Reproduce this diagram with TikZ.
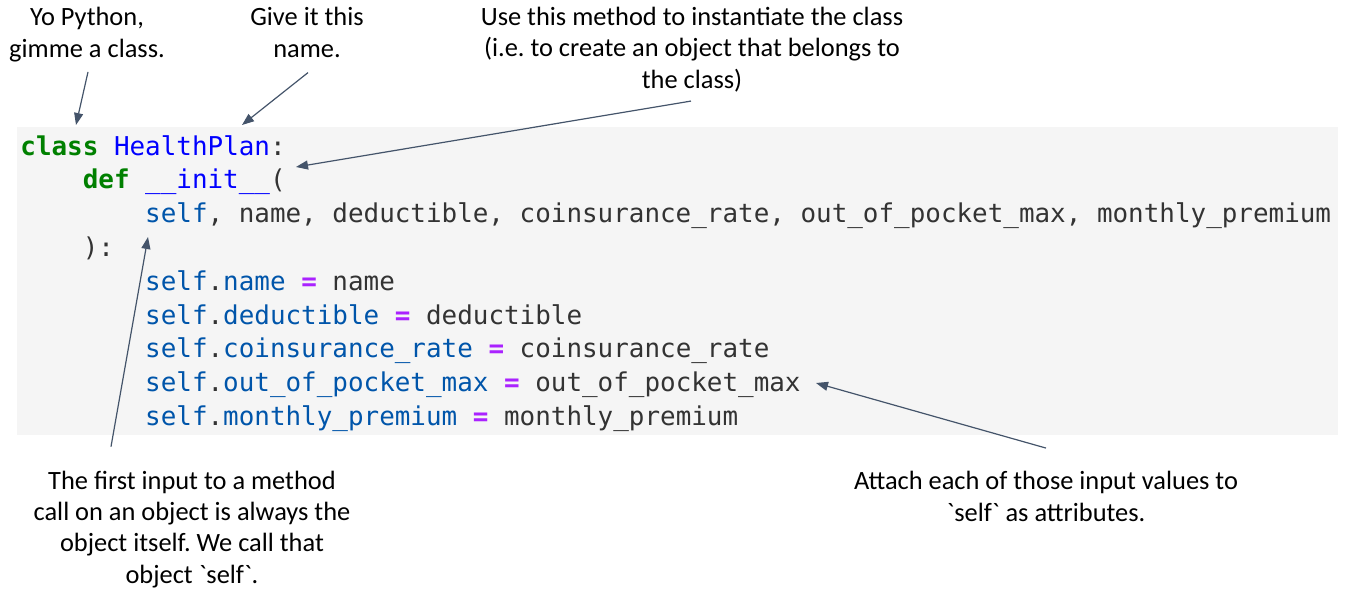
\documentclass[tikz,border=0pt]{standalone}
\usepackage{fontspec}
\setmainfont{Carlito}
\setmonofont{DejaVu Sans Mono}
\usetikzlibrary{arrows.meta,calc}
\definecolor{codebg}{HTML}{F5F5F5}
\definecolor{codetxt}{HTML}{333333}
\definecolor{kwgreen}{HTML}{008000}
\definecolor{defblue}{HTML}{0000FF}
\definecolor{varblue}{HTML}{0055AA}
\definecolor{opmagenta}{HTML}{AA22FF}
\definecolor{slate}{HTML}{44546A}
\newcommand{\kw}[1]{\textcolor{kwgreen}{\bfseries #1}}
\newcommand{\dn}[1]{\textcolor{defblue}{#1}}
\newcommand{\vr}[1]{\textcolor{varblue}{#1}}
\newcommand{\op}[1]{\textcolor{opmagenta}{\bfseries #1}}
\frenchspacing

\begin{document}
\begin{tikzpicture}[x=0.5pt, y=-0.5pt,
    codeline/.style={anchor=base west, inner sep=0pt, text=codetxt,
        font=\ttfamily\fontsize{12.96}{15}\selectfont},
    note/.style={align=center, anchor=base, inner sep=0pt,
        font=\fontsize{13.2}{15.6}\selectfont},
    pointer/.style={draw=slate, line width=0.6pt, -{Triangle[length=6pt,width=4.5pt]}}]
    \useasboundingbox (0,0) rectangle (1350,595);

    % Code cell
    \fill[codebg] (17,127) rectangle (1338,435);
    \node[codeline] (c1) at (20,155) {\kw{class} \dn{HealthPlan}:};
    \node[codeline] (c2) at (82.4,188.8) {\kw{def} \dn{\_\_init\_\_}(};
    \node[codeline] (c3) at (144.8,222.6) {\vr{self}, name, deductible, coinsurance\_rate, out\_of\_pocket\_max, monthly\_premium};
    \node[codeline] (c4) at (82.4,256.4) {):};
    \foreach \k/\attr in {4/name, 5/deductible, 6/coinsurance\_rate, 7/out\_of\_pocket\_max, 8/monthly\_premium} {
        \node[codeline] (a\k) at (144.8,155+33.8*\k) {\vr{self}.\vr{\attr} \op{=} \attr};
    }

    % Annotations (anchored at the baseline of their last line)
    \node[note] (yo) at (87,57) {Yo Python,\\gimme a class.};
    \node[note] (give) at (307,57) {Give it this\\name.};
    \node[note] (use) at (692,88) {Use this method to instantiate the class\\(i.e. to create an object that belongs to\\the class)};
    \node[note] (first) at (192,583) {The first input to a method\\call on an object is always the\\object itself. We call that\\object \textasciigrave self\textasciigrave.};
    \node[note] (attach) at (1046,521) {Attach each of those input values to\\\textasciigrave self\textasciigrave{} as attributes.};

    % Arrow tips
    \coordinate (tipclass) at (76,125);
    \coordinate (tipname) at (242,125);
    \coordinate (tipinit) at (296,167);
    \coordinate (tipself) at (148,237);
    \coordinate (tipattr) at (816,383);

    \draw[pointer] ($(yo.south)+(1,10)$) -- (tipclass);
    \draw[pointer] ($(give.south)+(1,15)$) -- (tipname);
    \draw[pointer] ($(use.south)+(-1,9)$) -- (tipinit);
    \draw[pointer] ($(first.north)+(-81,-24)$) -- (tipself);
    \draw[pointer] ($(attach.north)+(0,-23)$) -- (tipattr);
\end{tikzpicture}
\end{document}
